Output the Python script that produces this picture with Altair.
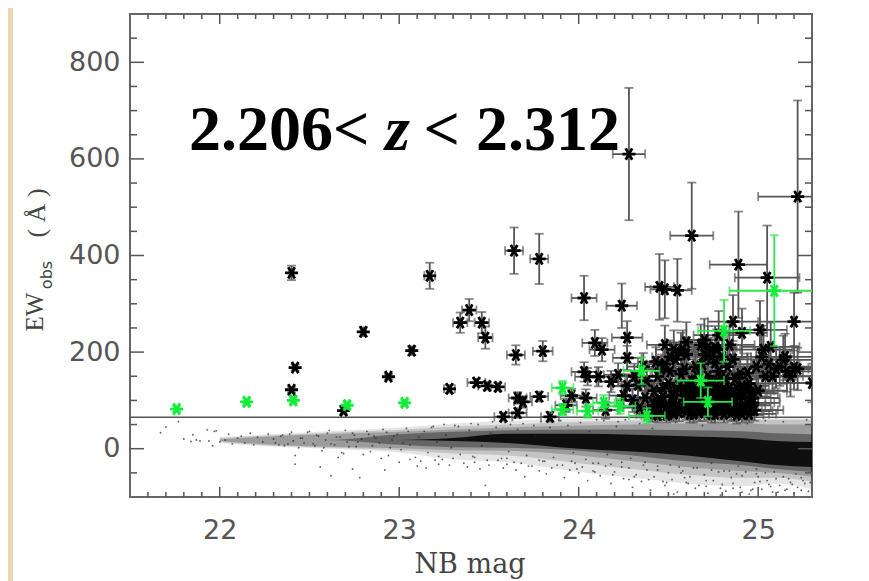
import altair as alt
import pandas as pd

# --- values: (NB mag, EW, x error, y error) ---
black_stars = [
 (22.40,364,.012,15),(22.40,122,.012,6),(22.42,168,.012,6),(22.69,79,.015,8),(22.80,242,.015,9),
 (22.94,149,.015,6),(23.07,203,.015,9),(23.17,358,.03,27),(23.28,124,.03,8),(23.34,261,.04,21),
 (23.39,287,.04,23),(23.46,261,.04,22),(23.48,230,.04,23),(23.43,137,.05,8),(23.49,130,.05,8),
 (23.55,128,.04,8),(23.58,66,.05,8),(23.64,410,.05,48),(23.65,194,.05,20),(23.66,105,.05,12),
 (23.66,74,.05,10),(23.69,97,.05,12),(23.78,393,.05,52),(23.78,108,.05,10),(23.80,202,.055,21),
 (23.84,66,.05,10),(23.93,90,.06,14),(23.96,110,.06,14),
 (24.03,312,.07,46),(24.03,159,.07,20),(24.05,149,.07,18),(24.04,105,.06,18),(24.09,219,.07,27),
 (24.11,149,.07,20),(24.13,205,.07,24),(24.15,80,.07,18),(24.18,139,.08,22),(24.22,153,.08,24),
 (24.24,296,.085,46),(24.27,230,.085,34),(24.27,188,.08,25),(24.28,610,.09,137),(24.33,132,.09,26),
 (24.30,100,.09,24),(24.36,170,.09,28),(24.45,335,.08,68),(24.48,330,.08,60),(24.55,328,.08,65),
 (24.63,441,.12,110),(24.89,381,.16,110),(25.05,354,.18,108),(25.22,522,.22,199),
 (24.86,263,.14,55),(25.01,246,.15,60),(25.20,263,.19,60),(24.91,240,.14,50),(24.76,209,.12,45),
 (24.58,205,.1,40),(24.53,205,.1,40),(25.14,184,.18,50),(25.20,168,.2,45),(25.03,205,.16,50),
 (25.07,211,.16,50),(24.94,157,.14,40),(24.76,178,.12,40),(25.30,136,.2,40),
 (24.40,80,.09,18),(24.42,120,.09,22),(24.44,150,.1,28),(24.46,95,.1,20),(24.48,175,.1,32),
 (24.50,75,.1,16),(24.50,135,.1,26),(24.52,110,.1,24),(24.54,185,.11,34),(24.55,90,.1,20),
 (24.57,155,.11,30),(24.58,120,.11,26),(24.60,78,.1,18),(24.60,195,.11,36),(24.62,105,.11,24),
 (24.63,140,.12,28),(24.65,170,.12,32),(24.66,85,.12,20),(24.68,120,.12,26),(24.70,75,.12,18),
 (24.70,195,.13,38),(24.72,150,.13,30),(24.74,105,.13,24),(24.75,90,.13,22),(24.77,130,.13,28),
 (24.78,160,.13,34),(24.80,80,.14,20),(24.80,115,.14,26),(24.82,145,.14,30),(24.84,100,.14,24),
 (24.85,75,.14,18),(24.86,185,.14,38),(24.88,125,.15,28),(24.89,90,.15,22),(24.90,155,.15,32),
 (24.92,108,.15,26),(24.93,78,.15,20),(24.95,135,.15,30),(24.97,95,.15,24),(24.99,170,.16,36),
 (25.00,120,.16,28),(25.04,150,.17,34),(25.10,165,.18,40),(25.16,160,.19,42),(25.22,165,.2,44),
 (24.70,225,.13,44),(24.78,235,.14,50),(24.60,220,.11,42),(24.48,215,.1,40),(24.84,215,.14,46),
 (24.41,72,.09,16),(24.43,100,.09,20),(24.45,78,.09,18),(24.47,125,.1,24),(24.49,88,.1,20),(24.51,160,.1,30),
 (24.53,72,.1,16),(24.53,95,.1,22),(24.56,130,.1,26),(24.56,75,.1,18),(24.59,100,.11,24),(24.59,165,.11,32),
 (24.61,130,.11,28),(24.61,90,.11,20),(24.64,72,.11,18),(24.64,115,.12,26),(24.66,150,.12,30),(24.67,100,.12,24),
 (24.69,85,.12,20),(24.69,175,.12,34),(24.71,125,.13,26),(24.71,100,.13,24),(24.73,80,.13,20),(24.73,135,.13,28),
 (24.76,72,.13,18),(24.76,115,.13,26),(24.79,95,.14,22),(24.79,145,.14,30),(24.81,72,.14,18),(24.81,125,.14,28),
 (24.83,90,.14,22),(24.83,170,.14,36),(24.85,110,.14,26),(24.87,78,.15,20),(24.87,145,.15,32),(24.89,105,.15,24),
 (24.91,72,.15,18),(24.91,130,.15,28),(24.94,95,.15,24),(24.95,72,.15,18),(24.96,115,.15,28),(24.98,80,.16,22),
 (24.74,190,.13,40),(24.77,205,.13,42),(24.72,210,.13,44),(24.80,190,.14,40),(24.68,215,.12,42),(24.57,200,.1,40),
 (24.25,110,.08,24),(24.27,130,.08,24),(24.31,150,.09,26),(24.34,85,.09,20),(24.37,105,.09,22),(24.38,140,.09,26),
 (25.02,190,.16,44),(25.08,150,.17,36),(25.12,170,.18,40),(25.06,175,.17,40),(25.18,150,.19,42),(25.15,190,.19,48),
 (24.42,90,.09,18),(24.44,70,.09,16),(24.47,108,.1,22),(24.49,70,.1,16),(24.52,85,.1,20),(24.54,120,.1,24),
 (24.57,85,.1,20),(24.60,110,.11,24),(24.62,72,.11,18),(24.63,95,.11,22),(24.65,125,.12,26),(24.67,75,.12,18),
 (24.70,110,.12,24),(24.72,88,.13,20),(24.74,72,.13,18),(24.75,120,.13,26),(24.78,85,.13,20),(24.78,105,.14,24),
 (24.82,100,.14,22),(24.84,125,.14,28),(24.86,90,.14,22),(24.88,70,.15,18),(24.90,115,.15,26),(24.92,90,.15,22),
 (24.94,120,.15,28),(24.96,80,.15,20),(24.97,105,.15,26),(24.43,180,.1,30),(24.46,165,.1,30),(24.51,190,.1,34),
]
green_stars = [
 (21.76,82,.012,6),(22.15,97,.015,7),(22.41,100,.015,7),(22.71,90,.015,7),(23.03,95,.015,6),
 (23.91,126,.06,14),(23.91,81,.06,12),(24.05,78,.06,14),(24.14,95,.06,16),(24.23,88,.085,16),
 (24.35,161,.10,28),(24.38,68,.10,16),(24.68,141,.13,36),(24.72,97,.135,30),(24.81,244,.145,64),
 (25.09,327,.25,115),
]

# density of the dot cloud, read by eye at these magnitudes (lightest to darkest)
band_x = [22.0,22.3,22.6,23.0,23.3,23.6,24.0,24.3,24.6,24.9,25.1,25.3]
l1_hi = [24,30,36,44,52,58,62,63,63,63,63,63]
l1_lo = [12,4,0,-8,-22,-28,-48,-60,-72,-78,-72,-84]
l2_hi = [22,28,33,39,46,50,56,58,60,60,60,60]
l2_lo = [14,6,2,-3,-10,-14,-30,-42,-54,-60,-60,-68]
l3_hi = [19,26,30,35,40,44,48,50,52,52,50,50]
l3_lo = [16,8,4,1,-3,-4,-14,-26,-38,-46,-50,-58]
l4_hi = [18,18,18,30,35,38,40,40,38,36,32,30]
l4_lo = [18,18,18,8,3,2,-4,-14,-26,-34,-42,-48]
l5_hi = [18,18,18,18,22,31,31,29,26,22,16,14]
l5_lo = [18,18,18,18,16,12,0,-6,-14,-26,-34,-38]

# individual stray dots, positions
dot_x = [21.67,21.70,21.77,21.80,21.85,21.84,21.87,21.89,21.93,21.94,21.96,21.97,21.98,22.00,22.03,22.05,22.07,22.10,
 22.12,22.14,22.17,22.19,22.21,22.24,22.27,22.30,22.33,22.35,22.38,22.40,22.42,22.45,22.47,22.50,22.53,22.55,22.58,
 22.60,22.62,22.65,22.68,22.70,22.72,22.75,22.77,22.80,22.83,22.85,22.87,22.90,22.93,22.95,22.97,23.00,23.02,23.05,
 22.42,22.56,22.62,22.66,22.74,22.78,22.92,23.06,23.10,23.12,23.15,23.18,23.20,23.22,23.25,23.28,23.30,23.33,23.36,
 23.38,23.40,23.42,23.45,23.48,23.50,23.52,23.55,23.58,23.60,23.62,23.65,23.68,23.70,23.72,23.75,23.78,23.80,23.82,
 23.85,23.88,23.90,23.92,23.95,23.98,24.00,24.02,24.05,24.08,24.10,24.12,24.15,24.18,24.20,24.22,24.25,24.28,24.30,
 24.32,24.35,24.38,24.40,24.42,24.45,24.48,24.50,24.52,24.55,24.58,24.60,24.62,24.65,24.68,24.70,24.72,24.75,24.78,
 24.80,24.82,24.85,24.88,24.90,24.92,24.95,24.98,25.00,25.02,25.05,25.08,25.10,25.12,25.15,25.18,25.20,25.22,25.25,25.28,
 23.22,23.42,23.60,23.78,23.96,24.08,24.18,24.24,24.36,24.44,24.56,24.66,24.74,24.84,24.93,24.99,25.04,25.14,25.24,
 24.28,24.47,24.61,24.71,24.86,24.96,25.06,25.16,25.26,24.53,24.79,24.91,
 22.31,22.34,22.36,22.39,22.41,22.44,22.46,22.49,22.52,22.54,22.57,22.59,22.61,22.64,22.67,22.69,22.71,22.74,22.76,22.79,
 22.82,22.84,22.86,22.89,22.91,22.94,22.96,22.99,23.01,23.04,23.06,23.09,23.11,23.14,23.16,23.19,23.21,23.24,23.26,23.29,
 23.31,23.34,23.37,23.39,23.41,23.44,23.46,23.49,23.51,23.54,23.57,23.59,23.61,23.64,23.66,23.69,23.71,23.74,23.76,23.79,
 23.81,23.84,23.86,23.89,23.91,23.94,23.97,23.99,24.01,24.04,24.06,24.09,24.11,24.14,24.16,24.19,24.21,24.24,24.26,24.29,
 24.31,24.34,24.37,24.39,24.41,24.44,24.46,24.49,24.51,24.54,24.57,24.59,24.61,24.64,24.67,24.69,24.71,24.74,24.76,24.79,
 24.81,24.84,24.86,24.89,24.91,24.94,24.97,24.99,25.01,25.04,25.07,25.09,25.11,25.14,25.17,25.19,25.21,25.24,25.27,25.29]
dot_y = [33,45,56,20,29,15,18,16,39,16,6,36,37,14,18,30,10,22,
 26,12,32,8,24,14,30,20,8,28,10,34,-14,22,12,36,6,26,2,
 32,10,24,-8,38,4,28,14,-12,30,6,22,-20,34,2,26,-28,12,36,
 -32,-38,-56,-18,-42,-60,-44,-22,-36,-26,-40,44,-24,-32,50,-34,-20,46,-30,
 -38,52,-28,-42,-76,-34,56,-24,-40,-32,50,-44,-30,-58,-36,48,-46,-26,-52,
 -40,-34,58,-60,-44,-30,-50,-38,-66,-46,60,-56,-36,-72,-48,56,-62,-40,-80,
 -54,-68,-44,-86,-58,60,-76,-50,-64,-90,-46,-70,-58,-82,60,-54,-92,-66,-48,
 -74,-88,-60,-52,-80,62,-94,-70,-58,-84,-66,-90,-62,-76,-86,-70,-92,-80,-66,-88,
 -16,-18,-20,-24,-26,-30,-32,-28,-34,-36,-38,-40,-44,-46,-48,-52,-50,-58,-60,
 -64,-68,-72,-78,-82,-86,-74,-84,-72,-94,-96,-90,
 12,26,6,30,16,2,22,34,10,28,-4,18,38,8,24,-10,14,32,4,20,
 36,-6,26,12,40,-14,18,30,-2,42,8,-18,24,36,-8,46,14,-22,28,2,
 48,-12,20,38,-16,50,6,-24,32,44,-20,54,-6,-28,40,52,-14,-36,26,56,
 -26,44,-18,58,-34,48,-8,-42,54,-22,36,-48,-30,58,-12,-54,46,-38,60,-20,
 -58,52,-28,-64,42,-44,58,-70,-34,54,-50,-60,60,-40,-76,48,-66,-30,56,-82,
 -46,60,-72,-36,-56,52,-84,-42,-68,58,-78,-48,-90,56,-62,-74,-52,-86,60,-70]

x_major = [22,23,24,25]
x_minor = [21.6,21.7,21.8,21.9,22.1,22.2,22.3,22.4,22.5,22.6,22.7,22.8,22.9,23.1,23.2,23.3,23.4,23.5,23.6,23.7,23.8,23.9,
           24.1,24.2,24.3,24.4,24.5,24.6,24.7,24.8,24.9,25.1,25.2]
y_major = [0,200,400,600,800]
y_minor = [-50,50,100,150,250,300,350,450,500,550,650,700,750,850]
threshold = [65]

W, H = 682, 483
xs = alt.Scale(domain=[21.5, 25.3], nice=False, zero=False)
ys = alt.Scale(domain=[-100, 900], nice=False, zero=False)
INK = "#555555"


def table(rows):
    d = pd.DataFrame(rows, columns=["x", "y", "xe", "ye"])
    d["xlo"] = d.x - d.xe
    d["xhi"] = d.x + d.xe
    d["ylo"] = d.y - d.ye
    d["yhi"] = d.y + d.ye
    return d


def X(f):
    return alt.X(f, type="quantitative", scale=xs)


def Y(f):
    return alt.Y(f, type="quantitative", scale=ys)


def stars(rows, err, ink, w):
    d = alt.Chart(table(rows))
    return [
        d.mark_rule(color=err, strokeWidth=w, clip=True).encode(x=X("xlo:Q"), x2="xhi:Q", y=Y("y:Q")),
        d.mark_rule(color=err, strokeWidth=w, clip=True).encode(x=X("x:Q"), y=Y("ylo:Q"), y2="yhi:Q"),
        d.mark_tick(color=err, orient="horizontal", size=9, thickness=w, clip=True).encode(x=X("x:Q"), y=Y("ylo:Q")),
        d.mark_tick(color=err, orient="horizontal", size=9, thickness=w, clip=True).encode(x=X("x:Q"), y=Y("yhi:Q")),
        d.mark_tick(color=err, orient="vertical", size=9, thickness=w, clip=True).encode(x=X("xlo:Q"), y=Y("y:Q")),
        d.mark_tick(color=err, orient="vertical", size=9, thickness=w, clip=True).encode(x=X("xhi:Q"), y=Y("y:Q")),
        d.mark_point(shape="M-1,0L1,0M-0.5,-0.87L0.5,0.87M-0.5,0.87L0.5,-0.87", size=170, filled=False,
                     color=ink, strokeWidth=2.8, opacity=1, clip=True).encode(x=X("x:Q"), y=Y("y:Q")),
    ]


def tick_x(vals, n):
    d = alt.Chart(pd.DataFrame({"v": vals}))
    return [
        d.mark_rule(color=INK, strokeWidth=1.5).encode(x=X("v:Q"), y=alt.value(H), y2=alt.value(H - n)),
        d.mark_rule(color=INK, strokeWidth=1.5).encode(x=X("v:Q"), y=alt.value(0), y2=alt.value(n)),
    ]


def tick_y(vals, n):
    d = alt.Chart(pd.DataFrame({"v": vals}))
    return [
        d.mark_rule(color=INK, strokeWidth=1.5).encode(y=Y("v:Q"), x=alt.value(0), x2=alt.value(n)),
        d.mark_rule(color=INK, strokeWidth=1.5).encode(y=Y("v:Q"), x=alt.value(W), x2=alt.value(W - n)),
    ]


def label(text, px, py, size, font, color="#000000", **kw):
    return alt.Chart(pd.DataFrame({"t": [text]})).mark_text(
        fontSize=size, font=font, color=color, baseline="alphabetic", **kw
    ).encode(text="t:N", x=alt.value(px - 130), y=alt.value(py - 14))


bands = pd.DataFrame(dict(x=band_x, l1_hi=l1_hi, l1_lo=l1_lo, l2_hi=l2_hi, l2_lo=l2_lo, l3_hi=l3_hi, l3_lo=l3_lo,
                          l4_hi=l4_hi, l4_lo=l4_lo, l5_hi=l5_hi, l5_lo=l5_lo))
b = alt.Chart(bands)


def band(n, op):
    return b.mark_area(color="#000000", opacity=op, interpolate="monotone", clip=True).encode(
        x=X("x:Q"), y=Y(f"l{n}_lo:Q"), y2=f"l{n}_hi:Q")


cloud = [band(1, 0.10), band(2, 0.14), band(3, 0.20), band(4, 0.35), band(5, 0.85),
         alt.Chart(pd.DataFrame({"x": dot_x, "y": dot_y})).mark_circle(size=3.5, color="#222222", opacity=0.7, clip=True).encode(x=X("x:Q"), y=Y("y:Q"))]

line = alt.Chart(pd.DataFrame({"y": threshold})).mark_rule(color="#555555", strokeWidth=1.6).encode(y=Y("y:Q"))

strips = [
    alt.Chart(pd.DataFrame({"a": [0]})).mark_rect(color="#E8D5B2", clip=False).encode(
        x=alt.value(-122), x2=alt.value(-117), y=alt.value(-6), y2=alt.value(567)),
]

base = alt.Chart(pd.DataFrame({"x": [22], "y": [0]})).mark_point(opacity=0).encode(
    x=alt.X("x:Q", scale=xs, axis=alt.Axis(values=x_major, title=None, domain=False, ticks=False, grid=False, format="d",
                                          labelFont="DejaVu Sans", labelFontSize=27, labelColor="#555555", labelPadding=20)),
    y=alt.Y("y:Q", scale=ys, axis=alt.Axis(values=y_major, title=None, domain=False, ticks=False, grid=False, format="d",
                                          labelFont="DejaVu Sans", labelFontSize=27, labelColor="#555555", labelPadding=10)),
)

texts = [
    label("2.206<", 189, 150, 64, "Liberation Serif", fontWeight="bold", align="left"),
    label("z", 385, 150, 64, "Liberation Serif", fontWeight="bold", fontStyle="italic", align="left"),
    label("< 2.312", 620, 150, 64, "Liberation Serif", fontWeight="bold", align="right"),
    label("NB mag", 470, 573, 27, "DejaVu Serif", color="#444444", align="center"),
    label("EW", 43, 312, 25, "Liberation Serif", color="#444444", angle=270, align="center"),
    label("obs", 52, 275, 16, "DejaVu Sans", color="#444444", angle=270, align="center"),
    label("(  Å  )", 45, 213, 26, "Liberation Serif", color="#444444", angle=270, align="center"),
]

layers = [base] + strips + cloud + [line] + stars(black_stars, "#555555", "#000000", 1.8) + stars(green_stars, "#2BE84A", "#10EE3A", 1.8) \
    + tick_x(x_major, 10) + tick_x(x_minor, 5) + tick_y(y_major, 14) + tick_y(y_minor, 7) + texts

chart = alt.layer(*layers).properties(
    width=W, height=H, background="#FFFFFF",
    padding={"left": 122, "top": 6, "right": 49, "bottom": 84},
    autosize=alt.AutoSizeParams(type="none"),
).configure_view(stroke="#666666", strokeWidth=2)

chart.save("out.html", embed_options={"renderer": "svg", "actions": False})
